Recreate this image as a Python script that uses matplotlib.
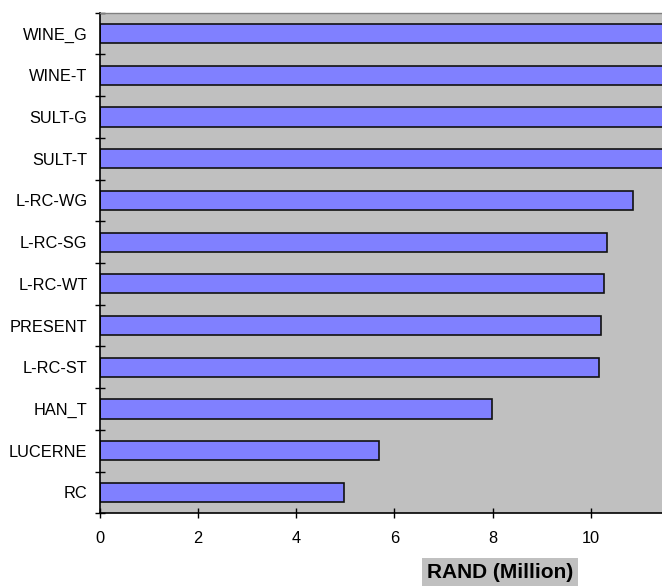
import matplotlib
matplotlib.use("Agg")
import matplotlib.pyplot as plt
import numpy as np

plt.rcParams['font.family'] = ['Liberation Sans', 'DejaVu Sans']

# Scenarios, listed bottom to top
categories = ["RC", "LUCERNE", "HAN_T", "L-RC-ST", "PRESENT", "L-RC-WT",
              "L-RC-SG", "L-RC-WG", "SULT-T", "SULT-G", "WINE-T", "WINE_G"]
values = [4.97, 5.68, 7.98, 10.16, 10.20, 10.27, 10.33, 10.85,
          12.0, 12.2, 12.4, 12.6]
x_ticks = [0, 2, 4, 6, 8, 10]
x_label = "RAND (Million)"

fig = plt.figure(figsize=(6.62, 5.87), dpi=100)
ax = fig.add_axes([100 / 662, 1 - 513.3 / 587, 1 - 100 / 662, (513.3 - 12.7) / 587])
ax.set_facecolor("#C0C0C0")

y = np.arange(len(categories)) + 0.5
ax.barh(y, values, height=0.46, color="#8080FF", edgecolor="#111111",
        linewidth=1.2, zorder=2)

ax.set_xlim(0, 11.45)
ax.set_ylim(0, len(categories))

# category boundaries carry the tick marks, centres carry the labels
ax.set_yticks(np.arange(len(categories) + 1))
ax.set_yticklabels([])
ax.set_yticks(y, minor=True)
ax.set_yticklabels(categories, minor=True, fontsize=11.8)
ax.tick_params(axis='y', which='major', direction='inout', length=7, width=1)
ax.tick_params(axis='y', which='minor', length=0, pad=9)

ax.set_xticks(x_ticks)
ax.set_xticklabels([str(t) for t in x_ticks], fontsize=11.8)
ax.tick_params(axis='x', direction='inout', length=7, width=1, pad=9)

for side in ("left", "bottom"):
    ax.spines[side].set_color("black")
    ax.spines[side].set_linewidth(1.2)
ax.spines["top"].set_color("#808080")
ax.spines["top"].set_linewidth(1.0)
ax.spines["right"].set_visible(False)

fig.text(500 / 662, 1 - 572 / 587, x_label, ha='center', va='center',
         fontsize=15, fontweight='bold',
         bbox=dict(facecolor="#C0C0C0", edgecolor='none', pad=3.5))

fig.savefig("out.png", dpi=100)
